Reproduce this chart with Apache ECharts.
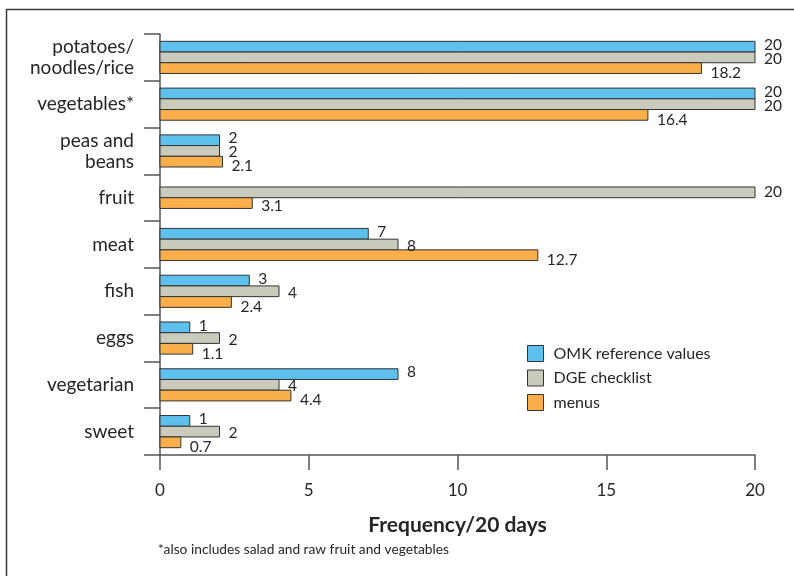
<!DOCTYPE html>
<html>
<head>
<meta charset="utf-8">
<script src="https://cdn.jsdelivr.net/npm/echarts@6/dist/echarts.min.js"></script>
<style>
  html, body { margin: 0; padding: 0; background: #ffffff; }
  #chart { width: 794px; height: 576px; }
</style>
</head>
<body>
<div id="chart"></div>
<script>
// Food groups, top to bottom
const categories = [
  'potatoes/\nnoodles/rice', 'vegetables*', 'peas and\nbeans', 'fruit',
  'meat', 'fish', 'eggs', 'vegetarian', 'sweet'
];
// Frequency per 20 days
const omkValues  = [20, 20, 2, null, 7, 3, 1, 8, 1];
const dgeValues  = [20, 20, 2, 20, 8, 4, 2, 4, 2];
const menuValues = [18.2, 16.4, 2.1, 3.1, 12.7, 2.4, 1.1, 4.4, 0.7];
const seriesNames = ['OMK reference values', 'DGE checklist', 'menus'];
const xTicks = [0, 5, 10, 15, 20];

const FONT = 'Lato, "Open Sans", sans-serif';
const TEXT = '#262626';
const colors = ['#5ec0ec', '#cacabd', '#fbaf4a'];
const allSeries = [omkValues, dgeValues, menuValues];

// bars present in each category and the slot each series takes there
function slotInfo(catIdx, sIdx) {
  const present = [];
  allSeries.forEach((arr, i) => { if (arr[catIdx] != null) present.push(i); });
  return { n: present.length, k: present.indexOf(sIdx) };
}

function renderBar(params, api) {
  const cat = api.value(0);
  const val = api.value(1);
  if (val == null || isNaN(val)) return;
  const band = api.size([0, 1])[1];
  const center = api.coord([0, cat]);
  const end = api.coord([val, cat]);
  const bh = band * 0.229;
  const { n, k } = slotInfo(cat, params.seriesIndex);
  const top = center[1] - (n * bh) / 2 + k * bh;
  const labelY = center[1] + (k - (n - 1) / 2) * 14 + 1.5;
  return {
    type: 'group',
    children: [
      {
        type: 'rect',
        shape: { x: center[0], y: top, width: end[0] - center[0], height: bh },
        style: { fill: colors[params.seriesIndex], stroke: '#333333', lineWidth: 1 }
      },
      {
        type: 'text',
        z2: 10,
        style: {
          text: String(val),
          x: end[0] + 9,
          y: labelY,
          verticalAlign: 'middle',
          align: 'left',
          fill: TEXT,
          font: '15.5px ' + FONT
        }
      }
    ]
  };
}

const chart = echarts.init(document.getElementById('chart'), null, { renderer: 'canvas' });

chart.setOption({
  animation: false,
  backgroundColor: '#ffffff',
  grid: { left: 160, right: 39, top: 34, bottom: 121, containLabel: false },
  legend: {
    orient: 'vertical',
    left: 527,
    top: 345,
    padding: 0,
    itemWidth: 16,
    itemHeight: 16,
    itemGap: 7.5,
    icon: 'rect',
    textStyle: { fontFamily: FONT, fontSize: 16, color: TEXT, padding: [0, 0, 0, 5] },
    data: seriesNames.map((name, i) => ({
      name,
      itemStyle: { color: colors[i], borderColor: '#333333', borderWidth: 1 }
    }))
  },
  xAxis: {
    type: 'value',
    min: 0,
    max: 20,
    interval: 5,
    name: 'Frequency/20 days',
    nameLocation: 'middle',
    nameGap: 60,
    nameTextStyle: { fontFamily: FONT, fontSize: 21, fontWeight: 'bold', color: TEXT },
    axisLine: { show: true, lineStyle: { color: '#555555', width: 1.5 } },
    axisTick: { show: true, length: 15, lineStyle: { color: '#555555', width: 1.5 } },
    axisLabel: {
      margin: 27,
      fontFamily: FONT,
      fontSize: 17,
      color: TEXT,
      customValues: xTicks
    },
    splitLine: { show: false }
  },
  yAxis: {
    type: 'category',
    inverse: true,
    data: categories,
    boundaryGap: true,
    axisLine: { show: true, lineStyle: { color: '#555555', width: 1.5 } },
    axisTick: { show: true, interval: 0, length: 16, lineStyle: { color: '#555555', width: 1.5 } },
    axisLabel: {
      interval: 0,
      margin: 26,
      fontFamily: FONT,
      fontSize: 19,
      lineHeight: 21,
      color: TEXT,
      align: 'right'
    }
  },
  series: allSeries.map((arr, i) => ({
    name: seriesNames[i],
    type: 'custom',
    itemStyle: { color: colors[i], borderColor: '#333333' },
    encode: { x: 1, y: 0 },
    renderItem: renderBar,
    data: arr.map((v, c) => [c, v == null ? '-' : v])
  })),
  graphic: [
    {
      type: 'polyline',
      silent: true,
      shape: { points: [[6.5, 576], [6.5, 9.5], [794, 9.5]] },
      style: { stroke: '#3a3a3a', lineWidth: 1.5, fill: null }
    },
    {
      type: 'text',
      left: 158,
      top: 543,
      style: {
        text: '*also includes salad and raw fruit and vegetables',
        font: '13.75px ' + FONT,
        fill: TEXT
      }
    }
  ]
});
</script>
</body>
</html>
